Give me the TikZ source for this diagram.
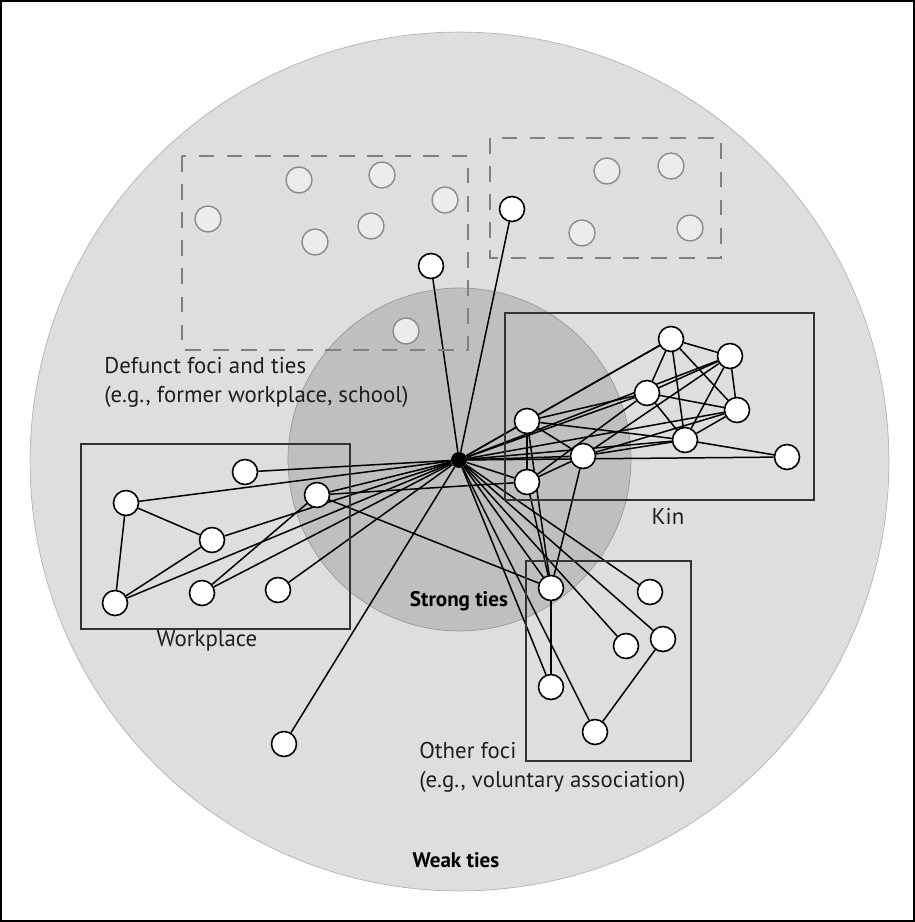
\documentclass[tikz,border=0pt]{standalone}
\usepackage{fontspec}
\setmainfont{PT Sans}
\definecolor{weakgray}{gray}{0.87}
\definecolor{stronggray}{gray}{0.75}
\definecolor{inkgray}{gray}{0.12}
\pgfdeclarelayer{back}
\pgfdeclarelayer{ties}
\pgfsetlayers{back,ties,main}

\begin{document}
\begin{tikzpicture}[x=0.02cm, y=-0.02cm,
    person/.style={circle, draw, fill=white, line width=0.9pt, minimum size=0.5cm, inner sep=0pt},
    former/.style={circle, draw=gray!90, fill=gray!15, line width=0.8pt, minimum size=0.52cm, inner sep=0pt},
    tie/.style={line width=0.85pt},
    focus/.style={draw=black!80, line width=1pt},
    oldfocus/.style={draw=gray, line width=0.9pt, dash pattern=on 9pt off 7pt},
    focusname/.style={text=inkgray, inner sep=0pt, align=left, font=\fontsize{13}{16.5}\selectfont},
    ring/.style={text=black, inner sep=0pt, font=\bfseries\fontsize{12}{14}\selectfont}]
    \useasboundingbox (0,0) rectangle (915,922);
    \draw[line width=0.6pt] (1,1) rectangle (914,921);

    % weak and strong ties
    \begin{pgfonlayer}{back}
      \filldraw[fill=weakgray, draw=gray!60, line width=0.4pt] (459.5,461.5) circle (8.59cm);
      \filldraw[fill=stronggray, draw=gray!80, line width=0.4pt] (459.5,459.5) circle (3.43cm);
    \end{pgfonlayer}

    % foci
    \draw[oldfocus] (182,156) rectangle (468,350);
    \draw[oldfocus] (490,138) rectangle (721,258);
    \draw[focus] (505,313) rectangle (814,500);
    \draw[focus] (81,444) rectangle (350,629);
    \draw[focus] (526,561) rectangle (691,761);

    % defunct ties
    \node[former] (f1) at (208,219){};
    \node[former] (f2) at (299,180){};
    \node[former] (f3) at (382,175){};
    \node[former] (f4) at (445,200){};
    \node[former] (f5) at (315,242){};
    \node[former] (f6) at (371,226){};
    \node[former] (f7) at (406,331){};
    \node[former] (f8) at (607,171){};
    \node[former] (f9) at (671,166){};
    \node[former] (f10) at (582,233){};
    \node[former] (f11) at (690,228){};

    % ego and alters
    \node[circle, fill=black, minimum size=0.32cm, inner sep=0pt] (ego) at (459,460){};
    \node[person] (d1) at (431,266){};
    \node[person] (d2) at (512,209){};
    \node[person] (acq) at (284,744){};

    \node[person] (k1) at (671,339){};
    \node[person] (k2) at (730,356){};
    \node[person] (k3) at (647,393){};
    \node[person] (k4) at (737,410){};
    \node[person] (k5) at (527,421){};
    \node[person] (k6) at (685,440){};
    \node[person] (k7) at (583,456){};
    \node[person] (k8) at (787,457){};
    \node[person] (k9) at (527,482){};

    \node[person] (w1) at (245,472){};
    \node[person] (w2) at (126,503){};
    \node[person] (w3) at (317,495){};
    \node[person] (w4) at (212,540){};
    \node[person] (w5) at (115,603){};
    \node[person] (w6) at (202,593){};
    \node[person] (w7) at (278,590){};

    \node[person] (o1) at (551,588){};
    \node[person] (o2) at (650,592){};
    \node[person] (o3) at (626,646){};
    \node[person] (o4) at (663,639){};
    \node[person] (o5) at (551,687){};
    \node[person] (o6) at (595,732){};

    \begin{pgfonlayer}{ties}
      \foreach \t in {d1,d2,acq,w1,w2,w3,w4,w5,w6,w7,k1,k2,k3,k4,k5,k6,k7,k8,k9,o1,o2,o3,o4,o5,o6}
        \draw[tie] (ego) -- (\t);
      \foreach \a/\b in {k1/k2,k1/k3,k1/k4,k1/k5,k1/k6,k2/k3,k2/k4,k2/k6,k2/k7,k3/k4,k3/k5,k3/k6,
          k4/k6,k4/k7,k5/k6,k5/k7,k5/k9,k6/k7,k6/k8,k7/k9,k9/k3,
          w2/w4,w2/w5,w4/w5,w6/w3,w3/k9,w3/o1,k5/o1,k9/o1,k7/o1,o1/o5,o4/o6}
        \draw[tie] (\a) -- (\b);
    \end{pgfonlayer}

    % labels
    \node[focusname, anchor=west] (defunct) at (104,382.5){Defunct foci and ties\\(e.g., former workplace, school)};
    \node[focusname] (wplabel) at (207,641){Workplace};
    \node[focusname] (kinlabel) at (668,516){Kin};
    \node[focusname, anchor=west] (otherlabel) at (419,767){Other foci\\(e.g., voluntary association)};
    \node[ring] (strong) at (459,601){Strong ties};
    \node[ring] (weak) at (456,860){Weak ties};
\end{tikzpicture}
\end{document}
